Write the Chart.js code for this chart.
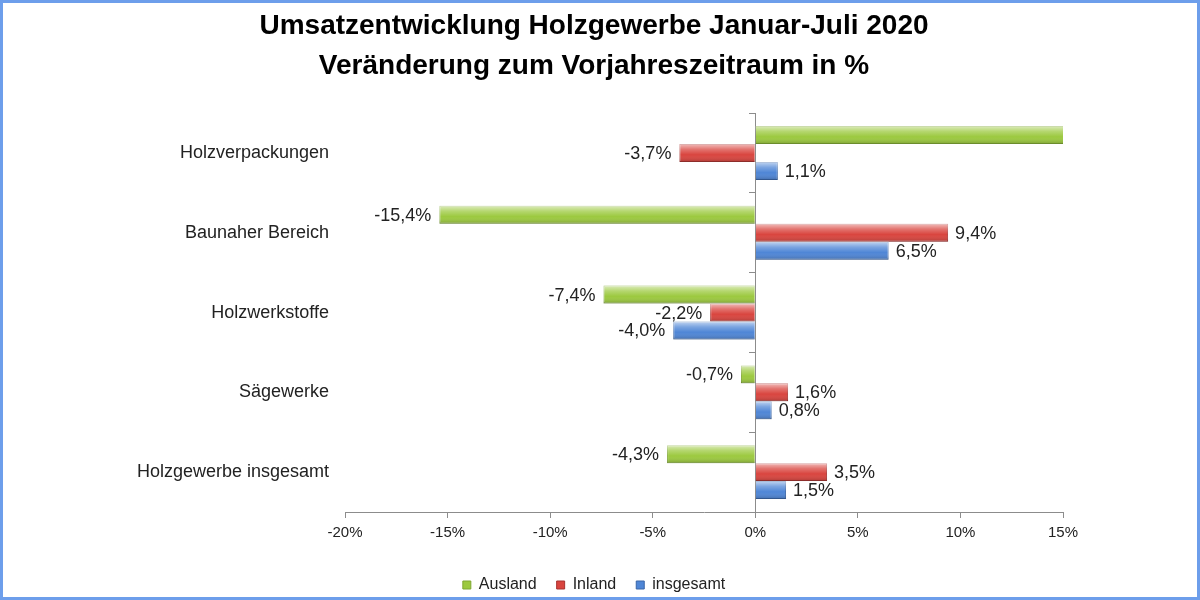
<!DOCTYPE html>
<html lang="de">
<head>
    <meta charset="UTF-8">
    <title>Umsatzentwicklung Holzgewerbe Januar-Juli 2020</title>
    <script src="https://cdn.jsdelivr.net/npm/chart.js"></script>
    <style>
        html, body {
            margin: 0;
            padding: 0;
            background: #ffffff;
        }
        .wrap {
            width: 1200px;
            height: 600px;
        }
    </style>
</head>
<body>
    <div class="wrap"><canvas id="grafik"></canvas></div>

    <script>
        // Daten: Veränderung zum Vorjahreszeitraum in %
        const kategorien = ["Holzverpackungen", "Baunaher Bereich", "Holzwerkstoffe", "Sägewerke", "Holzgewerbe insgesamt"];
        const ausland = [16.0, -15.4, -7.4, -0.7, -4.3];   // erster Wert läuft über den Rand hinaus
        const inland = [-3.7, 9.4, -2.2, 1.6, 3.5];
        const insgesamt = [1.1, 6.5, -4.0, 0.8, 1.5];
        const achseMin = -20;
        const achseMax = 15;
        const achseSchritt = 5;

        const schrift = "'Liberation Sans', Arial, sans-serif";

        // Glanz-Effekt auf den Balken + Werte an den Balkenenden
        const balkenExtras = {
            id: "balkenExtras",
            afterDatasetsDraw(chart) {
                const ctx = chart.ctx;
                const area = chart.chartArea;
                const xs = chart.scales.x;
                ctx.save();
                ctx.beginPath();
                ctx.rect(area.left, area.top, area.right - area.left, area.bottom - area.top);
                ctx.clip();
                chart.data.datasets.forEach((ds, i) => {
                    chart.getDatasetMeta(i).data.forEach(bar => {
                        const p = bar.getProps(["x", "y", "base", "height"], true);
                        const links = Math.min(p.x, p.base);
                        const breite = Math.abs(p.x - p.base);
                        const oben = p.y - p.height / 2;
                        const g = ctx.createLinearGradient(0, oben, 0, oben + p.height);
                        g.addColorStop(0, "rgba(255,255,255,0.65)");
                        g.addColorStop(0.3, "rgba(255,255,255,0.25)");
                        g.addColorStop(0.6, "rgba(255,255,255,0)");
                        g.addColorStop(1, "rgba(0,0,0,0.2)");
                        ctx.fillStyle = g;
                        ctx.fillRect(links, oben, breite, p.height);
                    });
                });
                ctx.restore();

                ctx.save();
                ctx.font = "18px " + schrift;
                ctx.fillStyle = "#222";
                ctx.textBaseline = "middle";
                chart.data.datasets.forEach((ds, i) => {
                    chart.getDatasetMeta(i).data.forEach((bar, j) => {
                        const v = ds.data[j];
                        if (v > xs.max || v < xs.min) return;
                        const text = v.toFixed(1).replace(".", ",") + "%";
                        if (v >= 0) {
                            ctx.textAlign = "left";
                            ctx.fillText(text, bar.x + 7, bar.y + 1);
                        } else {
                            ctx.textAlign = "right";
                            ctx.fillText(text, bar.x - 8, bar.y + 1);
                        }
                    });
                });
                ctx.restore();
            },
            afterDraw(chart) {
                const ctx = chart.ctx;
                ctx.save();
                ctx.strokeStyle = "#6d9eeb";
                ctx.lineWidth = 3;
                ctx.strokeRect(1.5, 1.5, chart.width - 3, chart.height - 3);
                ctx.restore();
            }
        };

        const ctx = document.getElementById("grafik").getContext("2d");
        const grafik = new Chart(ctx, {
            type: "bar",
            data: {
                labels: kategorien,
                datasets: [
                    {
                        label: "Ausland",
                        data: ausland,
                        backgroundColor: "#9cc93f",
                        borderColor: "#7fa832",
                        borderWidth: 1
                    },
                    {
                        label: "Inland",
                        data: inland,
                        backgroundColor: "#d9453f",
                        borderColor: "#a83330",
                        borderWidth: 1
                    },
                    {
                        label: "insgesamt",
                        data: insgesamt,
                        backgroundColor: "#4f86d6",
                        borderColor: "#3a66a8",
                        borderWidth: 1
                    }
                ]
            },
            options: {
                indexAxis: "y",
                responsive: true,
                maintainAspectRatio: false,
                animation: false,
                categoryPercentage: 0.675,
                barPercentage: 1.0,
                layout: { padding: { left: 0, right: 12, top: 0, bottom: -3 } },
                plugins: {
                    title: {
                        display: true,
                        text: ["Umsatzentwicklung Holzgewerbe Januar-Juli 2020", "Veränderung zum Vorjahreszeitraum in %"],
                        color: "#000",
                        font: { family: schrift, size: 28, weight: "bold", lineHeight: 1.43 },
                        padding: { top: 6, bottom: 27 }
                    },
                    legend: {
                        position: "bottom",
                        labels: {
                            boxWidth: 8,
                            boxHeight: 8,
                            padding: 20,
                            color: "#222",
                            font: { family: schrift, size: 16 }
                        }
                    },
                    tooltip: { enabled: false }
                },
                scales: {
                    x: {
                        type: "linear",
                        min: achseMin,
                        max: achseMax,
                        ticks: {
                            stepSize: achseSchritt,
                            padding: 6,
                            color: "#222",
                            font: { family: schrift, size: 15 },
                            callback: v => v + "%"
                        },
                        grid: { drawOnChartArea: false, tickLength: 6, color: "#8c8c8c" },
                        border: { color: "#8c8c8c" },
                        afterFit: s => { s.height = 45; }
                    },
                    y: {
                        type: "category",
                        position: "left",
                        ticks: {
                            padding: 8,
                            color: "#222",
                            font: { family: schrift, size: 18 }
                        },
                        grid: { display: false },
                        border: { display: false },
                        afterFit: s => { s.width = 345; }
                    },
                    y0: {
                        type: "category",
                        position: { x: 0 },
                        offset: true,
                        ticks: { display: false },
                        grid: { offset: true, drawOnChartArea: false, tickLength: 6, color: "#8c8c8c" },
                        border: { color: "#8c8c8c" },
                        afterFit: s => { s.width = 0; }
                    },
                    yRechts: {
                        type: "category",
                        position: "right",
                        ticks: { display: false },
                        grid: { display: false },
                        border: { display: false },
                        afterFit: s => { s.width = 125; }
                    }
                }
            },
            plugins: [balkenExtras]
        });
    </script>
</body>
</html>
